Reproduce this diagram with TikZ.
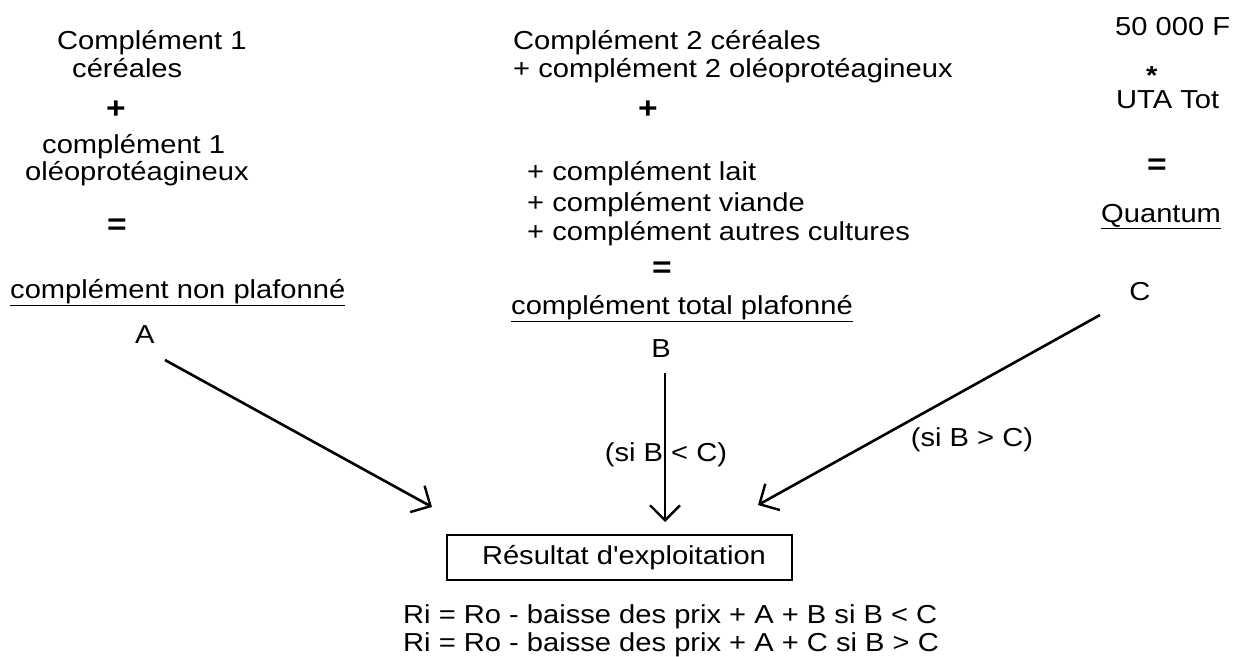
\documentclass[tikz,border=0pt]{standalone}
\usepackage{fontspec}
\setmainfont[FakeStretch=1.12,Ligatures=TeXOff]{Liberation Sans}
\usetikzlibrary{arrows.meta}
\newcommand\txtfont{\fontsize{26}{28}\selectfont}
\newcommand\symfont{\fontsize{30}{30}\selectfont\bfseries}
\tikzset{
  txt/.style={inner sep=0pt, font=\txtfont},
  lft/.style={txt, anchor=base west},
  ctr/.style={txt, anchor=base},
  sym/.style={inner sep=0pt, anchor=center, font=\symfont},
  arr/.style={line width=2.6pt, -{Straight Barb[length=15pt,width=30pt,line width=2.4pt]}},
  resbox/.style={txt, draw, line width=1.6pt, minimum width=345pt, minimum height=45pt}
}
\begin{document}
\begin{tikzpicture}[x=1pt,y=-1pt]
\useasboundingbox (0,0) rectangle (1234,656);
% left column
\node[lft] (c1a) at (57,49) {Complément 1};
\node[lft] (c1b) at (72,77) {céréales};
\node[sym] (p1) at (116,110) {+};
\node[lft] (c1c) at (42,153) {complément 1};
\node[lft] (c1d) at (25,180) {oléoprotéagineux};
\node[sym] (e1) at (117,227) {=};
\node[lft] (A1) at (10,298) {\underline{complément non plafonné}};
\node[lft] (A) at (135,343) {A};
% middle column
\node[lft] (c2a) at (513,49) {Complément 2 céréales};
\node[lft] (c2b) at (513,77) {+ complément 2 oléoprotéagineux};
\node[sym] (p2) at (648,110) {+};
\node[lft] (c2c) at (527,180) {+ complément lait};
\node[lft] (c2d) at (527,211) {+ complément viande};
\node[lft] (c2e) at (527,240) {+ complément autres cultures};
\node[sym] (e2) at (662,270) {=};
\node[lft] (B1) at (511,314) {\underline{complément total plafonné}};
\node[ctr] (B) at (661,357) {B};
% right column
\node[lft] (q1) at (1115,35) {50 000 F};
\node[lft] (q2) at (1116,108) {\makebox[0pt][l]{\hspace{30pt}\raisebox{24pt}{\bfseries *}}UTA Tot};
\node[sym] (e3) at (1157,167) {=};
\node[lft] (C1) at (1101,222) {\underline{Quantum}};
\node[ctr] (C) at (1140,300) {C};
% result box
\node[resbox] (res) at (619.5,557.5) {\hspace*{9pt}Résultat d'exploitation};
\node[lft] (f1) at (403,623) {Ri = Ro - baisse des prix + A + B si B < C};
\node[lft] (f2) at (403,651) {Ri = Ro - baisse des prix + A + C si B > C};
% arrows
\coordinate (a0) at (165,360);
\coordinate (a1) at (432,507);
\coordinate (b0) at (665,373);
\coordinate (b1) at (665,522);
\coordinate (k0) at (1100,315);
\coordinate (k1) at (758,505);
\draw[arr] (a0) -- (a1);
\draw[arr] (b0) -- (b1);
\draw[arr] (k0) -- (k1);
\node[txt] (lb) at (666,455) {(si B < C)};
\node[txt] (lc) at (972,440) {(si B > C)};
\end{tikzpicture}
\end{document}
